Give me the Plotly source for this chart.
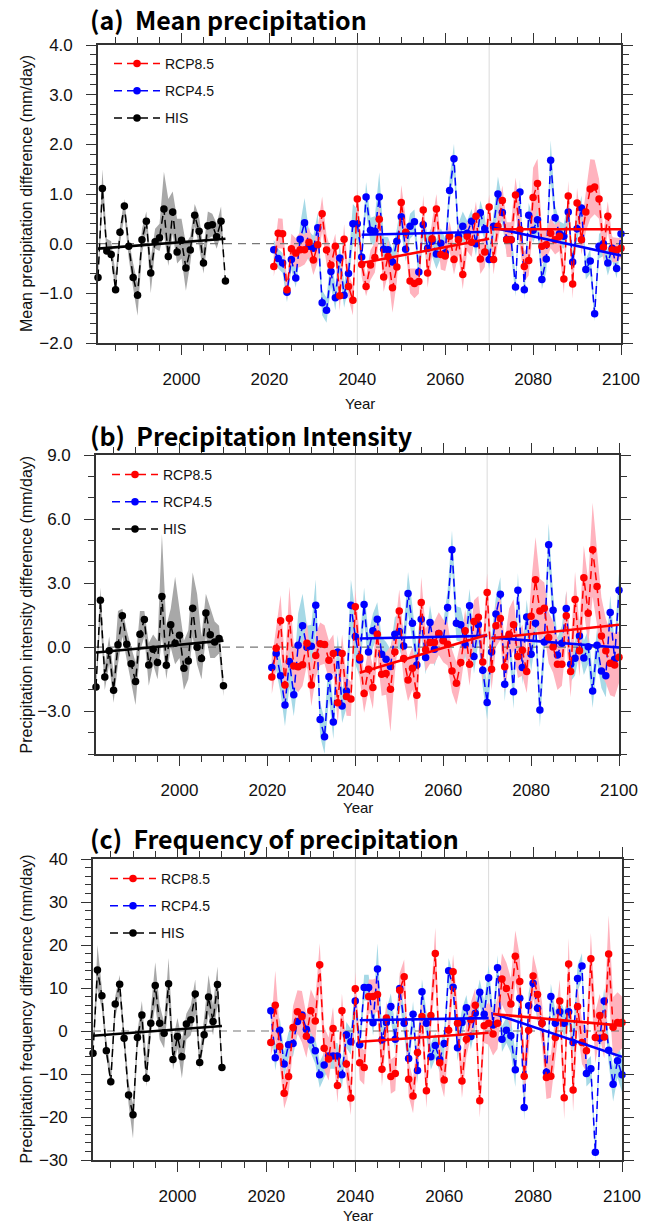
import numpy as np
import plotly.graph_objects as go

W, H = 658, 1225

his_years = list(range(1981, 2011))
rcp_years = list(range(2021, 2101))
trend_his_years = [1981, 2010]
trend_p1_years = [2041, 2070]
trend_p2_years = [2071, 2100]
period_marks = [2040, 2070]
x_range = [1981, 2100]

# ---------------- (a) Mean precipitation ----------------
a_his = [-0.68, 1.11, -0.15, -0.22, -0.93, 0.23, 0.76, -0.05, -0.68, -1.04,
         0.08, 0.45, -0.59, 0.04, 0.12, 0.70, -0.26, 0.64, -0.17, 0.07,
         -0.49, -0.13, 0.57, 0.25, -0.39, 0.36, 0.38, 0.14, 0.45, -0.75]
a_his_lo = [-0.75, 0.80, -0.20, -0.30, -1.00, 0.00, 0.55, -0.30, -0.90, -1.45,
            -0.20, 0.25, -1.00, -0.10, -0.15, 0.20, -0.45, 0.20, -0.40, -0.30,
            -0.95, -0.40, 0.35, -0.05, -0.60, 0.10, 0.15, -0.10, 0.20, -0.80]
a_his_hi = [-0.60, 1.50, 0.10, 0.05, -0.60, 0.35, 0.90, 0.10, -0.40, -0.80,
            0.30, 0.65, -0.30, 0.30, 0.40, 1.45, 0.90, 1.05, 0.50, 0.50,
            0.00, 0.15, 0.80, 0.55, -0.10, 0.65, 0.60, 0.40, 0.75, -0.65]
a_r85 = [-0.46, 0.21, 0.20, -0.93, -0.10, -0.19, -0.12, -0.12, 0.03, -0.33,
         -0.02, 0.60, -0.13, -0.43, -0.05, -1.05, 0.09, -0.86, -1.14, 0.90,
         -0.42, -0.86, -0.43, -0.28, 0.49, -0.67, -0.26, -0.89, -0.47, 0.83,
         0.23, -0.75, -0.80, -0.76, 0.68, -0.59, 0.10, 0.70, -0.22, -0.25,
         0.15, -0.32, 0.08, -0.62, 0.15, 0.03, 0.55, -0.31, -0.17, 0.74,
         -0.32, 0.35, 0.87, 0.08, 0.08, 0.98, 0.28, -0.46, -0.34, 0.93,
         1.21, -0.05, -0.02, 0.21, 0.08, 0.15, -0.71, 0.96, -0.81, 0.82,
         0.08, 0.64, 1.10, 1.14, 0.90, -0.07, 0.55, -0.12, -0.13, -0.09]
a_r85_spread = [0.20, 0.30, 0.30, 0.20, 0.30, 0.30, 0.35, 0.30, 0.30, 0.30,
                0.35, 0.35, 0.30, 0.30, 0.25, 0.30, 0.30, 0.25, 0.30, 0.20,
                0.25, 0.20, 0.30, 0.30, 0.35, 0.30, 0.35, 0.50, 0.30, 0.35,
                0.30, 0.25, 0.30, 0.25, 0.30, 0.30, 0.35, 0.30, 0.30, 0.30,
                0.30, 0.30, 0.30, 0.30, 0.30, 0.30, 0.30, 0.30, 0.30, 0.25,
                0.30, 0.30, 0.30, 0.35, 0.35, 0.35, 0.40, 0.30, 0.30, 0.60,
                0.50, 0.35, 0.30, 0.30, 0.30, 0.30, 0.30, 0.30, 0.30, 0.30,
                0.30, 0.40, 0.60, 0.55, 0.40, 0.30, 0.30, 0.25, 0.25, 0.20]
a_r45 = [-0.12, -0.30, -0.39, -0.98, -0.32, -0.69, 0.09, 0.42, -0.05, -0.09,
         0.32, -1.19, -1.34, -0.56, -1.09, -0.29, -1.04, -0.60, 0.40, 0.40,
         -0.27, 0.94, 0.27, 0.25, 0.94, -0.11, -0.12, -0.37, 0.05, 0.54,
         -0.11, 0.35, 0.44, -0.57, 0.38, -0.09, 0.05, -0.21, 0.01, -0.19,
         1.07, 1.71, 0.15, 0.35, 0.21, 0.45, 0.00, 0.62, 0.30, -0.32,
         0.35, 1.00, 0.63, 0.09, 0.08, -0.87, 1.04, -0.93, 0.57, 0.27,
         0.48, -0.72, -0.31, 1.68, 0.52, 0.20, 0.15, 0.64, -0.37, 0.30,
         0.72, -0.52, -0.35, -1.41, -0.05, 0.00, -0.39, -0.09, -0.50, 0.20]
a_r45_spread = [0.20, 0.20, 0.20, 0.20, 0.20, 0.20, 0.30, 0.50, 0.30, 0.25,
                0.30, 0.25, 0.25, 0.30, 0.25, 0.30, 0.25, 0.25, 0.40, 0.30,
                0.20, 0.30, 0.25, 0.30, 0.50, 0.25, 0.25, 0.25, 0.25, 0.30,
                0.25, 0.25, 0.25, 0.25, 0.25, 0.25, 0.30, 0.30, 0.30, 0.30,
                0.25, 0.30, 0.25, 0.30, 0.25, 0.25, 0.25, 0.25, 0.25, 0.20,
                0.25, 0.35, 0.25, 0.30, 0.30, 0.20, 0.25, 0.20, 0.25, 0.25,
                0.25, 0.20, 0.25, 0.40, 0.25, 0.25, 0.25, 0.25, 0.20, 0.25,
                0.25, 0.20, 0.25, 0.15, 0.25, 0.25, 0.25, 0.25, 0.20, 0.20]
a_his_trend = [-0.10, 0.10]
a_r85_trend1 = [-0.39, 0.10]
a_r85_trend2 = [0.29, 0.29]
a_r45_trend1 = [0.18, 0.24]
a_r45_trend2 = [0.32, -0.24]

# ---------------- (b) Precipitation Intensity ----------------
b_his = [-1.86, 2.20, -1.39, -0.17, -2.02, 0.11, 1.47, 0.14, -0.77, -1.61,
         0.61, 1.30, -0.83, -0.09, -0.72, 2.38, -0.85, 1.05, 0.19, 0.56,
         -0.98, -0.64, 1.83, 0.00, -0.53, 1.60, 0.58, 0.25, 0.41, -1.81]
b_his_lo = [-2.1, 1.2, -2.0, -0.8, -2.6, -0.8, 0.5, -0.6, -1.7, -2.7,
            -0.2, 0.5, -1.8, -0.8, -1.5, 0.5, -1.5, 0.0, -0.8, -0.5,
            -2.0, -1.5, 0.5, -0.8, -1.5, 0.5, -0.5, -0.5, -0.3, -2.3]
b_his_hi = [-1.6, 2.8, -0.8, 0.5, -1.2, 1.7, 1.8, 0.8, 0.0, -0.7,
            1.7, 1.7, 0.2, 0.6, 0.3, 5.3, 1.0, 1.8, 3.3, 1.8,
            0.3, 0.8, 3.5, 2.5, 0.5, 2.5, 1.8, 1.2, 1.0, -1.5]
b_r85 = [-1.39, -0.05, 1.24, -1.77, 1.34, -0.88, -0.91, -0.82, 0.19, -1.77,
         -0.39, 0.16, 0.13, -0.61, -0.30, -2.60, -0.30, -2.31, -2.42, 1.89,
         -0.48, -2.17, -1.03, -1.89, 0.61, -1.27, -1.23, -1.97, -0.22, 1.70,
         -0.53, -1.53, -0.98, -2.25, 2.09, -0.12, 0.22, 0.22, 0.64, 0.30,
         0.14, -1.11, -1.69, -0.72, 0.77, -0.80, 1.20, 1.40, -0.69, 2.56,
         -1.03, 1.00, 1.34, -0.92, 0.61, 1.05, -0.44, -0.14, -1.14, 1.45,
         3.16, 1.70, 1.83, 0.45, 0.01, -0.80, -0.80, 1.47, -1.14, 2.23,
         -0.17, 3.25, 1.59, 4.56, 2.84, 0.53, -0.17, -0.75, -0.83, -0.47]
b_r85_spread = [0.8, 1.0, 1.2, 1.0, 1.5, 1.0, 1.2, 1.0, 1.0, 1.0,
                1.0, 1.0, 0.9, 0.9, 0.9, 1.0, 0.9, 0.9, 0.8, 0.8,
                1.0, 0.9, 1.0, 1.0, 1.0, 1.0, 1.0, 2.0, 1.0, 1.0,
                1.0, 1.0, 1.0, 1.2, 1.2, 1.0, 1.0, 1.0, 1.0, 1.0,
                1.0, 1.0, 1.0, 1.0, 1.0, 1.0, 1.0, 1.0, 1.0, 0.9,
                1.0, 1.0, 1.0, 1.2, 1.2, 1.2, 1.0, 1.2, 1.0, 1.5,
                2.0, 1.5, 1.2, 1.2, 1.2, 1.2, 1.0, 1.2, 1.2, 1.3,
                1.2, 1.5, 1.5, 2.2, 1.8, 1.8, 1.5, 1.5, 1.5, 1.2]
b_r45 = [-0.95, -0.30, -1.34, -2.70, -0.67, -2.23, 0.09, 1.00, 0.00, 0.05,
         1.97, -3.38, -4.19, -1.38, -3.50, -0.22, -2.75, -2.05, 1.97, 0.50,
         -0.60, 2.00, -0.22, 0.77, 1.31, -0.33, -0.56, -0.90, 0.61, 0.73,
         0.06, 2.52, 1.12, -0.83, 1.31, -0.48, 1.16, -0.09, 0.64, 0.33,
         1.86, 4.56, 1.12, 1.05, 0.11, 1.94, -0.44, 1.05, -1.08, -2.59,
         -0.22, 1.55, 2.48, -1.73, 0.56, -2.09, 2.67, -0.95, 1.42, -0.33,
         1.12, -2.94, 0.25, 4.80, 1.73, -0.36, 0.19, 1.81, -0.80, -0.52,
         0.53, -0.50, 0.02, -2.05, 0.09, -1.11, -1.34, 1.62, -0.56, 2.67]
b_r45_spread = [0.6, 0.8, 0.8, 1.0, 1.2, 1.0, 1.5, 1.5, 1.0, 1.0,
                1.2, 0.8, 0.8, 1.0, 0.8, 0.8, 0.8, 0.8, 1.2, 1.3,
                0.8, 0.8, 0.8, 0.8, 0.8, 0.8, 0.8, 0.8, 0.8, 0.8,
                0.8, 1.0, 0.8, 0.8, 0.8, 0.8, 0.8, 0.8, 0.8, 0.8,
                0.8, 0.9, 0.8, 0.8, 0.8, 0.8, 0.8, 0.8, 0.8, 0.8,
                0.8, 0.8, 0.8, 0.8, 0.8, 0.8, 0.8, 0.8, 0.8, 0.8,
                0.8, 0.8, 0.8, 1.0, 0.8, 0.8, 0.8, 0.8, 0.8, 0.8,
                0.8, 0.8, 0.8, 0.8, 0.8, 0.8, 1.0, 0.8, 0.8, 0.8]
b_his_trend = [-0.25, 0.31]
b_r85_trend1 = [-1.20, 0.58]
b_r85_trend2 = [0.42, 1.05]
b_r45_trend1 = [0.41, 0.53]
b_r45_trend2 = [0.45, -0.01]

# ---------------- (c) Frequency of precipitation ----------------
c_his = [-5.2, 14.2, 8.2, -4.6, -11.8, 6.3, 10.9, -1.7, -14.9, -19.5,
         -1.5, 3.7, -11.0, 1.8, 10.6, 1.8, -0.5, 11.0, -6.6, -1.3,
         -6.0, 1.6, 2.6, 8.6, -7.3, -0.9, 7.9, 2.2, 10.8, -8.5]
c_his_lo = [-6, 10, 5, -6, -13, 3, 8, -4, -17, -25,
            -4, 0, -13, -1, 6, -2, -4, 7, -9, -4,
            -11, -2, -1, 4, -9, -3, 4, -1, 6, -9]
c_his_hi = [-4, 20, 10, -2, -9, 8, 13, 1, -12, -17,
            0, 7, -6, 5, 16, 6, 2, 17, -2, 3,
            -2, 4, 6, 12, -5, 3, 13, 6, 15, -7]
c_r85 = [-2.7, 6.0, -3.6, -14.5, -10.6, 0.8, 4.5, 3.3, -1.2, 4.7,
         2.3, 15.4, -4.0, -6.5, 0.6, -12.7, 4.7, -7.7, -15.6, 9.8,
         -7.4, -8.5, 8.0, 8.0, 8.5, -8.9, 3.0, -10.6, -9.9, 9.5,
         12.6, -11.2, -15.1, -5.0, 3.4, -13.9, 3.6, 18.0, -7.4, -11.4,
         0.2, 13.8, 1.8, -11.6, -1.9, 2.6, 6.0, -16.2, 1.2, 1.8,
         -0.7, 1.8, 12.1, 9.9, 6.3, 17.4, 11.5, -10.5, 0.2, 12.8,
         8.5, 1.8, -10.8, -10.5, -1.5, 7.0, -15.5, 15.6, -13.7, 5.7,
         -2.7, -4.6, 16.8, -1.5, 3.6, -1.4, 17.9, 0.9, 2.0, 2.0]
c_r85_spread = [3, 8, 4, 3.5, 4, 5, 5, 6, 5, 5,
                5, 5, 5, 5, 5, 4, 4, 4, 4, 4,
                4, 4, 4, 4, 4, 4, 4, 4, 4, 4,
                4, 4, 4, 4, 4, 4, 4, 6, 4, 4,
                4, 4, 4, 4, 4, 4, 4, 4, 4, 5,
                5, 6, 6, 6, 6, 6, 6, 5, 5, 5,
                5, 5, 5, 5, 5, 5, 5, 6, 5, 5,
                5, 5, 6, 6, 5, 5, 9, 7, 7, 6]
c_r45 = [4.7, -6.2, 0.2, -7.7, -3.2, -2.9, 2.2, 3.7, 0.4, -2.1,
         -4.6, -10.2, -7.9, -5.8, -5.8, -5.8, -10.2, -0.9, -2.5, 7.0,
         -3.2, 10.1, 10.1, 1.9, 14.4, -2.1, 2.0, 5.7, -1.9, 9.9,
         1.8, -6.4, 3.9, -9.2, 9.1, 1.8, -6.0, -3.4, -6.6, -2.9,
         14.0, 10.2, -3.9, 2.0, 5.4, -1.3, 4.1, 9.0, 3.9, 12.4,
         1.4, 14.7, -1.9, 0.2, -1.1, -9.0, 7.6, -17.8, 5.9, 11.1,
         5.3, 1.8, -9.6, 8.0, 1.8, 4.5, 1.8, 4.5, -2.7, 12.2,
         15.1, -9.9, -8.8, -28.2, -1.7, 7.0, -4.5, -12.4, -6.9, -10.2]
c_r45_spread = [2.5, 3, 3, 3, 3, 3, 3, 3, 3, 3,
                3, 3, 3, 3, 3, 3, 3, 3, 3, 3,
                3, 3, 3, 3, 6, 3, 3, 3, 3, 3,
                3, 3, 3, 3, 3, 3, 3, 3, 3, 3,
                3, 3, 3, 3, 3, 3, 3, 3, 3, 3,
                3, 3, 3, 3, 4, 4, 3, 3, 3, 3,
                3, 3, 3, 3, 3, 3, 3, 3, 3, 3,
                3, 3, 3, 2, 3, 3, 3, 4, 4, 4]
c_his_trend = [-1.10, 1.16]
c_r85_trend1 = [-2.5, -0.4]
c_r85_trend2 = [3.95, 1.25]
c_r45_trend1 = [2.5, 3.0]
c_r45_trend2 = [4.1, -6.0]

titles = ["(a)\u00a0 Mean precipitation",
          "(b)\u00a0 Precipitation Intensity",
          "(c)\u00a0 Frequency of precipitation"]
ytitles = ["Mean precipitation difference (mm/day)",
           "Precipitation intensity difference (mm/day)",
           "Precipitation frequency difference (mm/day)"]
y_ranges = [[-2, 4], [-5, 9], [-30, 40]]
y_dticks = [1, 3, 10]
y_minor = [0.2, 1, 2]
y_formats = [".1f", ".1f", "d"]

panels = [
    dict(his=a_his, his_lo=a_his_lo, his_hi=a_his_hi, r85=a_r85, r85s=a_r85_spread,
         r45=a_r45, r45s=a_r45_spread, ht=a_his_trend, r85t1=a_r85_trend1,
         r85t2=a_r85_trend2, r45t1=a_r45_trend1, r45t2=a_r45_trend2),
    dict(his=b_his, his_lo=b_his_lo, his_hi=b_his_hi, r85=b_r85, r85s=b_r85_spread,
         r45=b_r45, r45s=b_r45_spread, ht=b_his_trend, r85t1=b_r85_trend1,
         r85t2=b_r85_trend2, r45t1=b_r45_trend1, r45t2=b_r45_trend2),
    dict(his=c_his, his_lo=c_his_lo, his_hi=c_his_hi, r85=c_r85, r85s=c_r85_spread,
         r45=c_r45, r45s=c_r45_spread, ht=c_his_trend, r85t1=c_r85_trend1,
         r85t2=c_r85_trend2, r45t1=c_r45_trend1, r45t2=c_r45_trend2),
]

# pixel boxes of the three plot areas (left, right, top, bottom)
boxes = [(98, 621, 45, 343), (96, 619, 455, 754), (93, 622, 859, 1160)]
legend_tops = [48, 459, 863]
legend_lefts = [109, 107, 105]
title_y = [19, 435, 838]
year_y = [404, 807, 1215]

RED, BLUE, BLACK = "#FF0000", "#0000FF", "#000000"
PINK, LBLUE, GRAY = "#FFB3BE", "#A6D9E6", "#A8A8A8"
AXC = "#333333"
FONT = "Liberation Sans, Arial, sans-serif"

fig = go.Figure()
annotations = []
shapes = []


def band(x, lo, hi, color, xa, ya):
    return go.Scatter(x=list(x) + list(x)[::-1], y=list(hi) + list(lo)[::-1],
                      fill="toself", fillcolor=color, line=dict(width=0),
                      mode="lines", hoverinfo="skip", showlegend=False,
                      xaxis=xa, yaxis=ya)


for i, p in enumerate(panels):
    xa = "x" if i == 0 else f"x{i+1}"
    ya = "y" if i == 0 else f"y{i+1}"
    leg = "legend" if i == 0 else f"legend{i+1}"
    r85 = np.array(p["r85"]); r85s = np.array(p["r85s"])
    r45 = np.array(p["r45"]); r45s = np.array(p["r45s"])

    fig.add_trace(band(his_years, p["his_lo"], p["his_hi"], GRAY, xa, ya))
    fig.add_trace(band(rcp_years, r45 - r45s, r45 + r45s, LBLUE, xa, ya))
    fig.add_trace(band(rcp_years, r85 - r85s, r85 + r85s, PINK, xa, ya))

    # zero reference line
    fig.add_trace(go.Scatter(x=x_range, y=[0, 0], mode="lines",
                             line=dict(color="#777777", width=1.2, dash="8px,6px"),
                             hoverinfo="skip", showlegend=False, xaxis=xa, yaxis=ya))

    common = dict(mode="lines+markers", xaxis=xa, yaxis=ya, legend=leg, cliponaxis=False)
    fig.add_trace(go.Scatter(x=his_years, y=p["his"], name="HIS", legendgroup=f"h{i}",
                             legendrank=3, line=dict(color=BLACK, width=1.5, dash="8px,5px"),
                             marker=dict(color=BLACK, size=7.5), **common))
    fig.add_trace(go.Scatter(x=rcp_years, y=p["r45"], name="RCP4.5", legendgroup=f"b{i}",
                             legendrank=2, line=dict(color=BLUE, width=1.5, dash="8px,5px"),
                             marker=dict(color=BLUE, size=7.5), **common))
    fig.add_trace(go.Scatter(x=rcp_years, y=p["r85"], name="RCP8.5", legendgroup=f"r{i}",
                             legendrank=1, line=dict(color=RED, width=1.5, dash="8px,5px"),
                             marker=dict(color=RED, size=7.5), **common))

    # trend lines
    for tx, ty, col in [(trend_his_years, p["ht"], BLACK),
                        (trend_p1_years, p["r45t1"], BLUE),
                        (trend_p2_years, p["r45t2"], BLUE),
                        (trend_p1_years, p["r85t1"], RED),
                        (trend_p2_years, p["r85t2"], RED)]:
        fig.add_trace(go.Scatter(x=tx, y=ty, mode="lines", line=dict(color=col, width=2.6),
                                 hoverinfo="skip", showlegend=False, xaxis=xa, yaxis=ya))

    l, r, t, b = boxes[i]
    xdom = [l / W, r / W]
    ydom = [1 - b / H, 1 - t / H]
    xkey = "xaxis" if i == 0 else f"xaxis{i+1}"
    ykey = "yaxis" if i == 0 else f"yaxis{i+1}"
    fig.update_layout(**{
        xkey: dict(domain=xdom, anchor=ya, range=x_range, tickmode="linear", tick0=2000,
                   dtick=20, ticks="outside", ticklen=10, tickwidth=1.3, tickcolor=AXC,
                   showline=True, linewidth=1.6, linecolor=AXC, mirror="allticks",
                   showgrid=False, zeroline=False, ticklabelstandoff=10, automargin=False,
                   tickfont=dict(family=FONT, size=17, color="#111111"),
                   minor=dict(tick0=2000, dtick=5, ticks="outside", ticklen=6,
                              tickwidth=1, tickcolor=AXC, showgrid=False)),
        ykey: dict(domain=ydom, anchor=xa, range=y_ranges[i], tickmode="linear", tick0=0,
                   dtick=y_dticks[i], tickformat=y_formats[i], ticks="outside", ticklen=10,
                   tickwidth=1.3, tickcolor=AXC, showline=True, linewidth=1.6,
                   linecolor=AXC, mirror="allticks", showgrid=False, zeroline=False,
                   ticklabelstandoff=10, automargin=False,
                   tickfont=dict(family=FONT, size=17, color="#111111"),
                   minor=dict(tick0=0, dtick=y_minor[i], ticks="outside", ticklen=6,
                              tickwidth=1, tickcolor=AXC, showgrid=False)),
        leg: dict(x=legend_lefts[i] / W, y=1 - legend_tops[i] / H, xanchor="left",
                  yanchor="top", bgcolor="rgba(0,0,0,0)", itemwidth=46,
                  tracegroupgap=6, font=dict(family=FONT, size=14, color="#111111"),
                  traceorder="grouped"),
    })

    for xm in period_marks:
        shapes.append(dict(type="line", xref=xa, yref=f"{ya} domain", x0=xm, x1=xm,
                           y0=0, y1=1, line=dict(color="#DADADA", width=1), layer="below"))

    annotations.append(dict(text=f"<b>{titles[i]}</b>", x=88 / W, y=1 - title_y[i] / H,
                            xref="paper", yref="paper", xanchor="left", yanchor="middle",
                            showarrow=False,
                            font=dict(family="Noto Sans CJK KR, Noto Sans, sans-serif",
                                      size=25, color="#000000")))
    annotations.append(dict(text=ytitles[i], x=26 / W, y=1 - (t + b) / 2 / H,
                            xref="paper", yref="paper", xanchor="center", yanchor="middle",
                            textangle=-90, showarrow=False,
                            font=dict(family=FONT, size=16, color="#111111")))
    annotations.append(dict(text="Year", x=(l + r) / 2 / W, y=1 - year_y[i] / H,
                            xref="paper", yref="paper", xanchor="center", yanchor="middle",
                            showarrow=False, font=dict(family=FONT, size=15, color="#111111")))

fig.update_layout(width=W, height=H, margin=dict(l=0, r=0, t=0, b=0, autoexpand=False),
                  paper_bgcolor="white", plot_bgcolor="white",
                  annotations=annotations, shapes=shapes, hovermode=False)

fig.write_html("out.html", config={"displayModeBar": False},
               post_script="document.body.style.margin='0';document.body.style.padding='0';")
